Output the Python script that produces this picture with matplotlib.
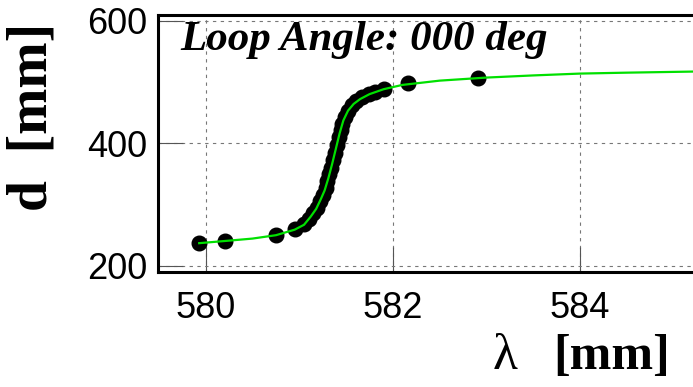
import matplotlib
matplotlib.use("Agg")
import matplotlib.pyplot as plt

# measured points (lambda [mm], d [mm])
lam_pts = [579.93, 580.21, 580.75, 580.95, 581.05, 581.10, 581.15, 581.19,
           581.22, 581.25, 581.28, 581.30, 581.32, 581.34, 581.36, 581.38,
           581.40, 581.42, 581.44, 581.46, 581.49, 581.52, 581.56, 581.61,
           581.67, 581.74, 581.81, 581.90, 582.16, 582.91]
d_pts = [238, 241, 250, 260, 268, 276, 286, 295,
         305, 316, 327, 338, 349, 360, 372, 384,
         397, 410, 421, 432, 443, 453, 462, 469,
         475, 480, 484, 488, 498, 506]

# fitted curve
lam_fit = [579.93, 580.20, 580.50, 580.75, 580.95, 581.05, 581.12, 581.18,
           581.23, 581.27, 581.31, 581.35, 581.39, 581.43, 581.47, 581.52,
           581.58, 581.65, 581.75, 581.90, 582.10, 582.50, 583.00, 583.50,
           584.00, 584.50, 585.30]
d_fit = [237, 240.5, 244.5, 250, 259, 267, 280, 293,
         309, 323, 343, 366, 391, 416, 437, 453,
         464, 472, 480, 488, 495, 502, 507, 510.5,
         513.5, 515, 517]

xticks = [580, 582, 584]
yticks = [200, 400, 600]

fig = plt.figure(figsize=(6.93, 3.87), dpi=100)
ax = fig.add_axes([158 / 693, 1 - 272 / 387, 542 / 693, 257 / 387])

ax.plot(lam_pts, d_pts, "o", color="black", markersize=10.5, zorder=3)
ax.plot(lam_fit, d_fit, "-", color="#00e000", lw=1.6, zorder=4)

ax.set_xlim(579.49, 585.28)
ax.set_ylim(190, 609)
ax.set_xticks(xticks)
ax.set_yticks(yticks)
ax.grid(True, color="#777777", lw=0.8, linestyle=(0, (3, 4)))

ax.tick_params(direction="in", length=18, width=0.8, color="#555555",
               labelsize=26, pad=8)
ax.tick_params(axis="x", pad=14)
for lab in ax.get_xticklabels() + ax.get_yticklabels():
    lab.set_family("Liberation Sans")
for sp in ax.spines.values():
    sp.set_linewidth(2.2)

fig.text(180 / 693, 1 - 50 / 387, "Loop Angle: 000 deg",
         family="Liberation Serif", weight="bold", style="italic",
         fontsize=31, va="baseline", zorder=5)

fig.text(33 / 693, 1 - 117 / 387, "d  [mm]", rotation=90, ha="center",
         va="center", family="Liberation Serif", weight="bold", fontsize=40)
fig.text(670 / 693, 1 - 357 / 387, "[mm]", ha="right", va="center",
         family="Liberation Serif", weight="bold", fontsize=36)
fig.text(517 / 693, 1 - 357 / 387, "λ", ha="right", va="center",
         family="Liberation Serif", fontsize=37)

fig.savefig("out.png", dpi=100)
